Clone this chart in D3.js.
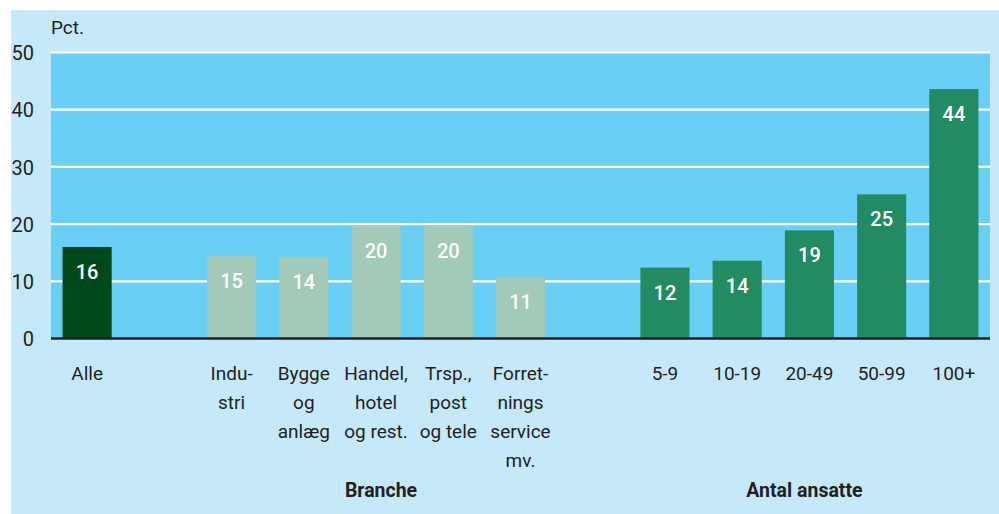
<!DOCTYPE html>
<html><head><meta charset="utf-8">
<script src="https://cdn.jsdelivr.net/npm/d3@7"></script>
<style>
html,body{margin:0;padding:0;background:#fff;}
svg{display:block;font-family:Roboto,"Open Sans",sans-serif;}
</style></head>
<body>
<svg id="chart" width="999" height="514"></svg>
<script>
// Data
const categories = ["Alle", "", "Indu-|stri", "Bygge|og|anlæg", "Handel,|hotel|og rest.", "Trsp.,|post|og tele", "Forret-|nings|service|mv.", " ", "5-9", "10-19", "20-49", "50-99", "100+"];
const values = [16.0, null, 14.5, 14.3, 19.7, 19.7, 10.8, null, 12.4, 13.6, 18.9, 25.2, 43.6];
const labels = ["16", "", "15", "14", "20", "20", "11", "", "12", "14", "19", "25", "44"];
const groups = ["total", "", "branche", "branche", "branche", "branche", "branche", "", "size", "size", "size", "size", "size"];
const yTicks = [0, 10, 20, 30, 40, 50];
const groupTitles = [{text: "Branche", from: 2, to: 6}, {text: "Antal ansatte", from: 8, to: 12}];
const unitLabel = "Pct.";

const colors = {total: "#00491a", branche: "#a1cab8", size: "#238b62"};

const svg = d3.select("#chart");
const W = 999, H = 514;
const plot = {left: 51, right: 990, top: 52.5, bottom: 338.5};

// backgrounds
svg.append("rect").attr("x", 11).attr("y", 10).attr("width", W - 11).attr("height", H - 10).attr("fill", "#c6e9f9");
svg.append("rect").attr("x", plot.left).attr("y", plot.top).attr("width", plot.right - plot.left).attr("height", plot.bottom - plot.top).attr("fill", "#69cff5");

const keys = categories.map((c, i) => i);
const x = d3.scaleBand().domain(keys).range([plot.left, plot.right]).paddingInner(0.32).paddingOuter(0.16);
const y = d3.scaleLinear().domain([0, 50]).range([plot.bottom, plot.top]);

// gridlines
svg.append("g").selectAll("line").data(yTicks.filter(t => t > 0)).join("line")
  .attr("x1", plot.left).attr("x2", plot.right)
  .attr("y1", d => y(d)).attr("y2", d => y(d))
  .attr("stroke", "#ffffff").attr("stroke-width", 2.2);

// y axis labels
const yAxis = d3.axisLeft(y).tickValues(yTicks).tickSize(0).tickPadding(0).tickFormat(d3.format("d"));
const yg = svg.append("g").attr("transform", `translate(34,0)`).call(yAxis);
yg.select(".domain").remove();
yg.selectAll("text").attr("font-size", 20).attr("fill", "#231f20").attr("font-family", "Roboto").attr("dy", "0.36em");

// unit label
svg.append("text").attr("x", 51).attr("y", 34).attr("font-size", 19).attr("fill", "#231f20").text(unitLabel);

// bars
const barData = keys.filter(i => values[i] != null);
svg.append("g").selectAll("rect").data(barData).join("rect")
  .attr("x", i => x(i)).attr("width", x.bandwidth())
  .attr("y", i => y(values[i])).attr("height", i => y(0) - y(values[i]))
  .attr("fill", i => colors[groups[i]]);

// value labels
svg.append("g").selectAll("text").data(barData).join("text")
  .attr("x", i => x(i) + x.bandwidth() / 2)
  .attr("y", i => y(values[i]) + 32)
  .attr("text-anchor", "middle").attr("font-size", 20).attr("font-weight", 500)
  .attr("fill", "#ffffff").text(i => labels[i]);

// zero axis
svg.append("line").attr("x1", plot.left).attr("x2", plot.right)
  .attr("y1", y(0)).attr("y2", y(0)).attr("stroke", "#231f20").attr("stroke-width", 2.5);

// category labels
const catG = svg.append("g").selectAll("text").data(keys.filter(i => categories[i].trim() !== "")).join("text")
  .attr("text-anchor", "middle").attr("font-size", 19).attr("fill", "#231f20")
  .attr("transform", i => `translate(${x(i) + x.bandwidth() / 2},380)`);
catG.selectAll("tspan").data(i => categories[i].split("|")).join("tspan")
  .attr("x", 0).attr("y", (d, j) => j * 29).text(d => d);

// group titles
svg.append("g").selectAll("text").data(groupTitles).join("text")
  .attr("x", (d, k) => (x(d.from) + x(d.to) + x.bandwidth()) / 2 + (k === 0 ? 5 : -5))
  .attr("y", 497).attr("text-anchor", "middle").attr("font-size", 19.5).attr("font-weight", 700)
  .attr("fill", "#231f20").text(d => d.text);
</script>
</body></html>
